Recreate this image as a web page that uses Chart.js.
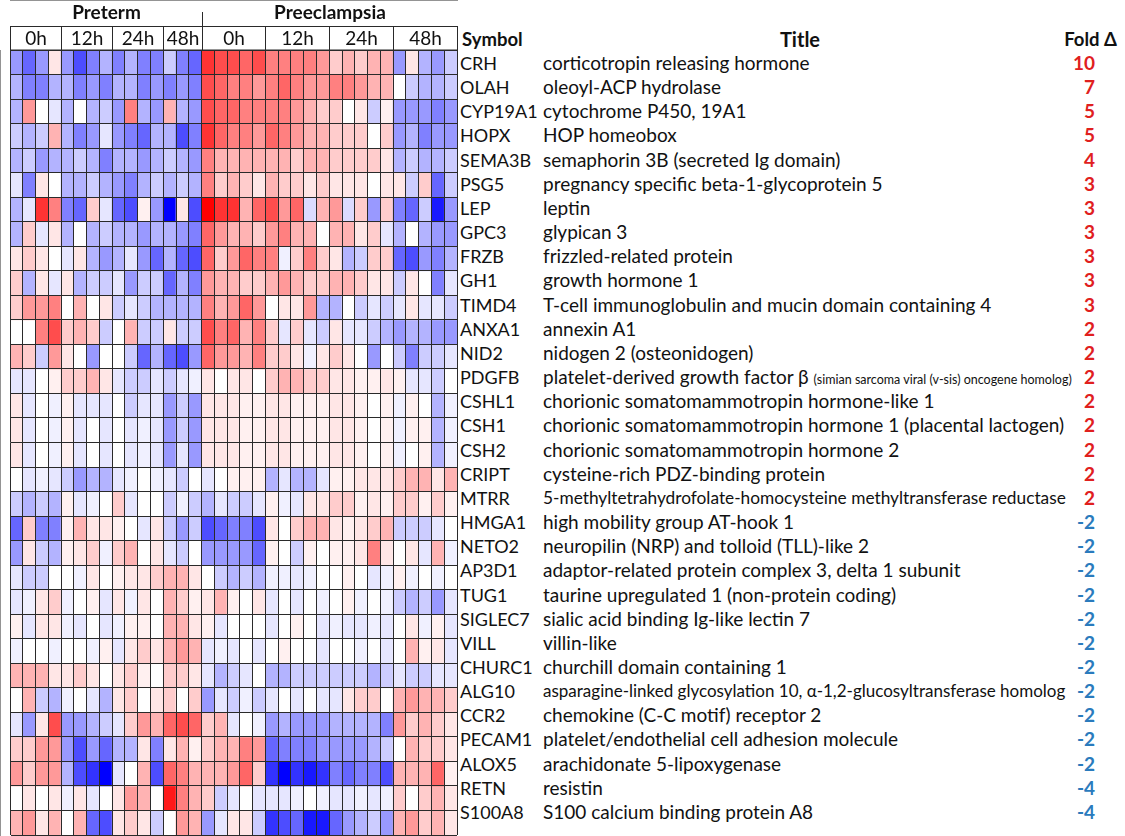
<!DOCTYPE html>
<html>
<head>
<meta charset="utf-8">
<script src="https://cdn.jsdelivr.net/npm/chart.js@4.4.1/dist/chart.umd.min.js"></script>
<style>
  html, body { margin: 0; padding: 0; background: #fff; }
  body { width: 1125px; height: 836px; position: relative; overflow: hidden; font-family: Lato, "Open Sans", sans-serif; color: #111; }
  #heat { position: absolute; left: 0; top: 0; }
  .cell { position: absolute; white-space: nowrap; font-size: 19px; }
  .sym { font-size: 18px; }
  .head { font-weight: bold; font-size: 18.5px; }
  .fold { font-weight: bold; text-align: right; }
</style>
</head>
<body>
<canvas id="heat" width="460" height="836"></canvas>
<div id="table"></div>
<script>
// column layout of the heat map
const cohorts = ["Preterm", "Preeclampsia"];
const times = ["0h", "12h", "24h", "48h", "0h", "12h", "24h", "48h"];
const timeCohort = [0, 0, 0, 0, 1, 1, 1, 1];
const samplesPerTime = [4, 4, 4, 3, 5, 5, 5, 5];

const genes = ["CRH", "OLAH", "CYP19A1", "HOPX", "SEMA3B", "PSG5", "LEP", "GPC3", "FRZB", "GH1",
  "TIMD4", "ANXA1", "NID2", "PDGFB", "CSHL1", "CSH1", "CSH2", "CRIPT", "MTRR", "HMGA1",
  "NETO2", "AP3D1", "TUG1", "SIGLEC7", "VILL", "CHURC1", "ALG10", "CCR2", "PECAM1", "ALOX5",
  "RETN", "S100A8"];

const titles = [
  "corticotropin releasing hormone",
  "oleoyl-ACP hydrolase",
  "cytochrome P450, 19A1",
  "HOP homeobox",
  "semaphorin 3B (secreted Ig domain)",
  "pregnancy specific beta-1-glycoprotein 5",
  "leptin",
  "glypican 3",
  "frizzled-related protein",
  "growth hormone 1",
  "T-cell immunoglobulin and mucin domain containing 4",
  "annexin A1",
  "nidogen 2 (osteonidogen)",
  "platelet-derived growth factor β (simian sarcoma viral (v-sis) oncogene homolog)",
  "chorionic somatomammotropin hormone-like 1",
  "chorionic somatomammotropin hormone 1 (placental lactogen)",
  "chorionic somatomammotropin hormone 2",
  "cysteine-rich PDZ-binding protein",
  "5-methyltetrahydrofolate-homocysteine methyltransferase reductase",
  "high mobility group AT-hook 1",
  "neuropilin (NRP) and tolloid (TLL)-like 2",
  "adaptor-related protein complex 3, delta 1 subunit",
  "taurine upregulated 1 (non-protein coding)",
  "sialic acid binding Ig-like lectin 7",
  "villin-like",
  "churchill domain containing 1",
  "asparagine-linked glycosylation 10, α-1,2-glucosyltransferase homolog",
  "chemokine (C-C motif) receptor 2",
  "platelet/endothelial cell adhesion molecule",
  "arachidonate 5-lipoxygenase",
  "resistin",
  "S100 calcium binding protein A8"
];

const folds = [10, 7, 5, 5, 4, 3, 3, 3, 3, 3, 3, 2, 2, 2, 2, 2, 2, 2, 2,
  -2, -2, -2, -2, -2, -2, -2, -2, -2, -2, -2, -4, -4];

// relative expression per gene (row) and sample (column), -5 blue .. +5 red
const heat = [
  [-2,-3,-2,0.5,-2,-3.5,-2.5,-1.5,-2.5,-1.5,-2.5,-2.5,-1,-2.5,-3, 4,3.5,3.5,3,3.5, 2.5,2.5,2.5,2.5,2, 1,1.5,1,1.5,1.5, -2,0.5,-1.5,-2,-1],
  [-1.5,-2.5,-2.5,-1.5,-1.5,-2.5,-2,-2.5,-1.5,-1.5,-2.5,-2,-2.5,-2,-2.5, 3.5,3,2.5,2.5,2, 2.5,3,2.5,2,2, 2.5,2.5,2,1.5,1.5, 0,-1,-1.5,-1.5,-1],
  [-1.5,2,0,-0.5,-1.5,0,-1.5,-1,-2,2.5,-1.5,-2,1.5,-1.5,-2, 3.5,3,3,2.5,2.5, 2.5,2.5,2,1.5,1, 1,0,0.5,-1,0.3, -2,-2,-2,-2.5,-2],
  [-1,-1.5,-1,1.5,-1.5,-2.5,-2,-0.5,-2,-2.5,-3,-1.5,-1.5,-3.5,-2.5, 4,3,2.5,2.5,2, 3,2.5,2,1.5,1.5, 1,1,1,0,1, -2,-1.5,-2.5,-2,-2],
  [-1.5,-1,-2,-1.5,-1.5,-1,-1.5,-2.5,-1.5,-1.5,-2,-1.5,-1,-1.5,-2, 2.5,1.5,1.5,1.5,1.5, 1.5,1.5,1,1.5,1.5, 1,1,1,1,0.5, -1.5,-1,-1.5,-1.5,-1],
  [-0.5,-2.5,0.5,0,-1.5,-1.5,-1,-1.5,-2,-2.5,-1.5,-1,-1.5,-1,-1.5, 2.5,1,1.5,1,0.5, 1.5,1,1,0.5,1, 0.5,0.5,0.5,0,0.5, 0.5,-1,1,-3,-1],
  [-1.5,-0.5,4,2.5,-2.5,-3,1,-0.5,-3,-3.5,0.3,-2,-5,0.5,-3.5, 5,4,4,1.5,3, 3.5,2,3,-0.7,1.5, 2,-0.7,1,-2,1, -2.5,-3,-1,-4.5,-2],
  [-1.5,1,-0.5,0.5,-1.5,0,-1.5,-1,-1.5,-1.5,-2,-1.5,-1.5,-2,-2.5, 3,2,1.5,1.5,1, 2,2.5,1.5,1.5,0, 1.5,1.5,0.5,1,-0.5, -1.5,0,-1.5,-2,-2],
  [0.5,1,0.5,0,-0.5,0.5,-1.5,-2,-1.5,-0.5,-2,-3,-1.5,-3,-3.5, 3,1,2,3,2.5, 2.5,-0.3,1,2.5,1, 0.5,-1.5,-1,1,1, -3,-3.5,-2,-2.5,-1.5],
  [1,-1.5,0.5,-0.5,0.5,-1.5,-1,-1,-0.5,-2,-1,-1,-3,-1.5,-2.5, 2,1.5,1.5,1,1, 1.5,2,1.5,1,1, 1.5,1.5,1,0.5,0.5, -1,0.5,0,-2.5,-0.5],
  [1,2,2,2.5,0,1.5,0,0.5,-1,-0.5,-1,-1.5,-1.5,-1.5,-1.5, 2.5,1.5,2,3,2, 0,0.5,0.5,2,-1.5, -1.5,0,-1,-0.5,-1, -0.5,0.5,-0.5,-0.5,-1],
  [0,0,2.5,3.5,1,1.5,1,-1,0,1.5,-1,-1,0.5,-1,-1, 3.5,2.5,3,1.5,2.5, 1,-0.5,1,-0.5,-1, 0.5,-0.5,-0.5,-1,-1.5, -2,-1.5,-1.5,-2,-2],
  [1.5,1,-1,2,0.5,0,-2,0,0,-1,-3,-1.5,-3,-3.5,-2, 3,2,2,1.5,2.5, 1,1,0.5,-0.3,0.5, 1,0.5,0,-2,0, -1,-2.5,-1,-1,-0.5],
  [-0.5,-0.5,0,0.3,1,1,1.5,0.5,-0.5,-1,-1,-0.5,-1,-0.5,-0.3, 0.5,0,0.5,0.5,0, 1,1.5,1.5,1,1, 0.5,0.5,0.3,0.3,0.5, 0.3,-0.5,-0.5,-1,0],
  [0.5,-0.5,0,-0.3,0.3,-0.5,-0.5,-0.5,0,-1,-0.5,-0.5,-2,-1,-2, 0.5,0.5,0.5,0.3,0.3, 0.5,0.5,0.3,0.3,0.3, 0.5,0.5,0.3,0,0.3, -0.3,0.3,0,-1.5,-0.3],
  [0.5,-0.5,0,-0.3,0.3,-0.5,0,-0.5,0,-0.5,-0.3,-0.5,-2,-1,-2, 0.5,0.5,0.5,0.3,0.3, 0.5,0.5,0.3,0.3,0.3, 0.5,0.5,0.3,0,0.3, -0.3,0.3,0.3,-1.5,-0.3],
  [0.5,-0.5,0,-0.3,0.3,-0.5,0,-0.5,0,-0.5,-0.3,-0.5,-2,-0.5,-2, 0.5,0.5,0.5,0.3,0.3, 0.5,0.5,0.3,0.3,0.3, 0.5,0.5,0.3,0,0.3, -0.3,0,0.3,-1.5,-0.3],
  [0,-0.5,-0.3,-0.5,-1,-2,-1.5,-1.5,-0.5,-0.3,0,-0.3,-0.5,-1,0, -0.5,0,0.3,0.3,0.3, -1.5,-0.5,-1.5,-1.5,-0.5, 0.3,0.3,0.5,0.5,0.5, 1,1.5,1.5,0.5,1.5],
  [-1,-1.5,-1,-1.5,0.3,-0.5,-0.3,0,1,-0.5,0,0,-1,-0.3,-1, -1.5,-0.5,-1,-1,-0.5, 0.3,-0.3,-0.5,0.5,0.5, 1,1,0.3,0.5,0.3, 1,1,0.3,1,0.3],
  [-3,1,-2.5,-2.5,0.3,1.5,0.5,0.5,0.3,0,-0.5,0.5,-1,-2,-1, -3.5,-3,-2.5,-2.5,-3.5, 0.5,0,1,1.5,1.5, 0.5,0.3,0.5,1,1.5, -1,-1,-1,-0.5,0],
  [-2,0.5,-1,-1.5,0.3,0.5,1,-0.3,1,1.5,0,0.5,-0.5,-1,0, -2,-2,-2,-2,-3, 0.3,0,-1,0.3,0, 0.3,0.3,0.5,2.5,0.5, 0,0.5,-0.5,1.5,-0.3],
  [-0.5,-1,-1,0,0,-0.3,0.5,0,0.3,0.5,0.5,1,1.5,1.5,0.5, 0,-1,-1.5,-1,-1.5, -0.3,-0.3,-0.5,-0.3,0, 0,0.3,0,-0.5,-0.3, 0.3,-0.3,0,-0.3,0],
  [-0.5,-0.3,0.5,1,-0.3,0,0.3,-0.5,0.5,-0.3,0.5,0,1.5,1,0.3, 0.5,1.5,0.3,0,0.5, -0.5,0,-0.5,0,-0.3, 0,0.3,-0.3,0,-0.3, -1,-1.5,-1,-2,-0.5],
  [0.3,-0.5,0.5,0.5,-0.3,-0.5,0,-0.5,-0.3,0.3,0.3,0,1.5,1.5,0.5, 0.3,-0.5,0,0,0, -0.5,0,0.3,0,-0.5, -0.3,-0.5,-0.5,-0.3,-0.5, 0,0.5,-0.3,0.3,-0.5],
  [-0.3,0,0,-0.3,0,0,-0.3,0.3,-0.5,0.5,1,0.5,1.5,2,1.5, -0.5,-0.3,-0.5,0,-0.5, 0,0.3,0,0,-0.5, 0,0,-0.3,0,-0.5, 0,1.5,0.3,0.5,-0.5],
  [1.5,1.5,1.5,0.5,0.5,1,0.5,0,0.5,1,0.3,0,1,1,0.5, -0.5,-1.5,-1,-0.5,0, -1.5,-1.5,-1,-1,-1, -1,-1,-1,-1.5,-1, -0.5,-1,-1,-0.5,-0.5],
  [0,1.5,-1,-1.5,-0.3,0,-0.5,-1.5,0.5,1,0,0.5,1,0,1, -2,-0.5,-1,-0.3,-1, -0.5,0,-0.5,0,-0.5, -0.5,0.5,1,1,0, 1.5,2,1.5,1.5,1],
  [-0.5,-2,0.5,3.5,-2,-2,-1.5,-1,-0.5,1,2,1.5,3,3.5,3, 1,1.5,-0.5,0,-0.3, -2,-1.5,-2,-2,-2, -1.5,-1.5,-1.5,-1.5,-2.5, 2,1,1.5,1,0.5],
  [1,1,2,2,-2,-3.5,-2,-3,-1.5,-1.5,0.5,-2.5,0.5,1.5,0.3, 1,1.5,1.5,2.5,2, -3,-2.5,-2.5,-2.5,-2, -2,-2,-2,-1.5,-1, 0,1.5,1,1,0.5],
  [2,1,2,2,-1.5,-3.5,-4,-5,-0.5,0,1.5,-3.5,3,2.5,1.5, 1.5,1.5,2,3,1, -4,-5,-4,-4.5,-4, -2.5,-3,-2.5,-2.5,-3.5, 1.5,1.5,1.5,3,0.3],
  [0,0.5,0,0.5,-0.3,0.5,-0.5,0,0.5,2,1.5,0,4.5,2.5,1.5, 1,-1,-0.5,0,-0.5, -0.5,-0.5,-0.3,0,-0.3, -0.5,-0.5,-0.3,-0.5,-0.3, 1,0,1,1.5,0.5],
  [1.5,2,0.5,1.5,0,1.5,-3,-3.5,0.5,1,0.5,-1,0,2,1.5, -2,-0.5,0.5,0.5,-1, -4,-3.5,-3,-4.5,-4.5, -3,-2,-1.5,-1,-2, 1.5,2,1,1.5,0.5]
];

// one category per sample column
const columns = [];
times.forEach((t, g) => {
  for (let s = 0; s < samplesPerTime[g]; s++) columns.push(cohorts[timeCohort[g]] + " " + t + " #" + (s + 1));
});

function cellColor(v) {
  const t = Math.min(Math.abs(v) / 5, 1);
  const c = Math.round(255 * (1 - t));
  return v >= 0 ? `rgb(255,${c},${c})` : `rgb(${c},${c},255)`;
}

const LINE = "#2a2a2a";
const FONT = "Lato, 'Open Sans', sans-serif";

// time / cohort header boxes above the heat map
const headerPlugin = {
  id: "header",
  afterDraw(chart) {
    const { ctx, chartArea: area, scales: { x } } = chart;
    const w = x.getPixelForValue(1) - x.getPixelForValue(0);
    const edge = i => Math.round(x.getPixelForValue(i) - w / 2) + 0.5;
    const boxTop = 26.5;
    ctx.save();
    ctx.strokeStyle = LINE;
    ctx.lineWidth = 1;
    ctx.strokeRect(edge(0), boxTop, edge(columns.length) - edge(0), area.top - boxTop);
    ctx.fillStyle = "#111";
    ctx.textAlign = "center";
    ctx.textBaseline = "middle";
    ctx.font = "19px " + FONT;
    let start = 0;
    const cohortSpan = [[null, 0], [null, 0]];
    times.forEach((t, g) => {
      const end = start + samplesPerTime[g];
      if (start > 0) {
        ctx.beginPath();
        ctx.moveTo(edge(start), boxTop);
        ctx.lineTo(edge(start), area.top);
        ctx.stroke();
      }
      ctx.fillText(t, (edge(start) + edge(end)) / 2, 39);
      const span = cohortSpan[timeCohort[g]];
      if (span[0] === null) span[0] = start;
      span[1] = end;
      start = end;
    });
    // divider between the two cohorts
    ctx.beginPath();
    ctx.moveTo(edge(cohortSpan[1][0]), 12);
    ctx.lineTo(edge(cohortSpan[1][0]), boxTop);
    ctx.stroke();
    ctx.font = "bold 19px " + FONT;
    cohorts.forEach((c, i) => {
      ctx.fillText(c, (edge(cohortSpan[i][0]) + edge(cohortSpan[i][1])) / 2, 13);
    });
    ctx.restore();
  }
};

const gridOpts = { color: LINE, lineWidth: 1, z: 1, drawTicks: false };

new Chart(document.getElementById("heat").getContext("2d"), {
  type: "bar",
  data: {
    labels: columns,
    datasets: genes.map((g, r) => ({
      label: g,
      data: columns.map(() => 1),
      backgroundColor: heat[r].map(cellColor),
      borderWidth: 0,
      barPercentage: 1,
      categoryPercentage: 1
    }))
  },
  options: {
    responsive: false,
    animation: false,
    layout: { padding: { left: 10, right: 3, top: 50, bottom: 1 } },
    plugins: { legend: { display: false }, tooltip: { enabled: false } },
    scales: {
      x: {
        stacked: true,
        ticks: { display: false, autoSkip: false },
        grid: { ...gridOpts, offset: true },
        border: { color: LINE },
        afterFit: s => { s.height = 0; }
      },
      y: {
        stacked: true,
        reverse: true,
        min: 0,
        max: genes.length,
        ticks: { display: false, stepSize: 1, maxTicksLimit: 100 },
        grid: gridOpts,
        border: { color: LINE },
        afterFit: s => { s.width = 0; }
      }
    }
  },
  plugins: [headerPlugin]
});

// gene table on the right
const table = document.getElementById("table");
const ROW0 = 51, ROWH = 24.16;
function addCell(text, left, top, cls, extra) {
  const d = document.createElement("div");
  d.className = "cell " + (cls || "");
  d.style.top = top + "px";
  d.style.height = ROWH + "px";
  d.style.lineHeight = ROWH + "px";
  if (left !== null) d.style.left = left + "px";
  Object.assign(d.style, extra || {});
  d.innerHTML = text;
  table.appendChild(d);
  return d;
}
addCell("Symbol", 462, ROW0 - ROWH, "head");
addCell("Title", 800, ROW0 - ROWH, "head", { transform: "translateX(-50%)", fontSize: "20px" });
addCell("Fold Δ", null, ROW0 - ROWH, "head", { right: "8px" });

const smallTitle = { MTRR: 17.3, ALG10: 17 };
genes.forEach((g, i) => {
  const top = ROW0 + i * ROWH;
  addCell(g, 460, top, "sym");
  let t = titles[i];
  if (g === "PDGFB") {
    const k = t.indexOf("β") + 1;
    t = t.slice(0, k) + ' <span style="font-size:12.5px">' + t.slice(k + 1) + "</span>";
  }
  const c = addCell(t, 543, top);
  if (smallTitle[g]) c.style.fontSize = smallTitle[g] + "px";
  addCell(String(folds[i]), null, top, "fold", {
    right: "30px",
    color: folds[i] > 0 ? "#e0201e" : "#2a7bbd"
  });
});
</script>
</body>
</html>
